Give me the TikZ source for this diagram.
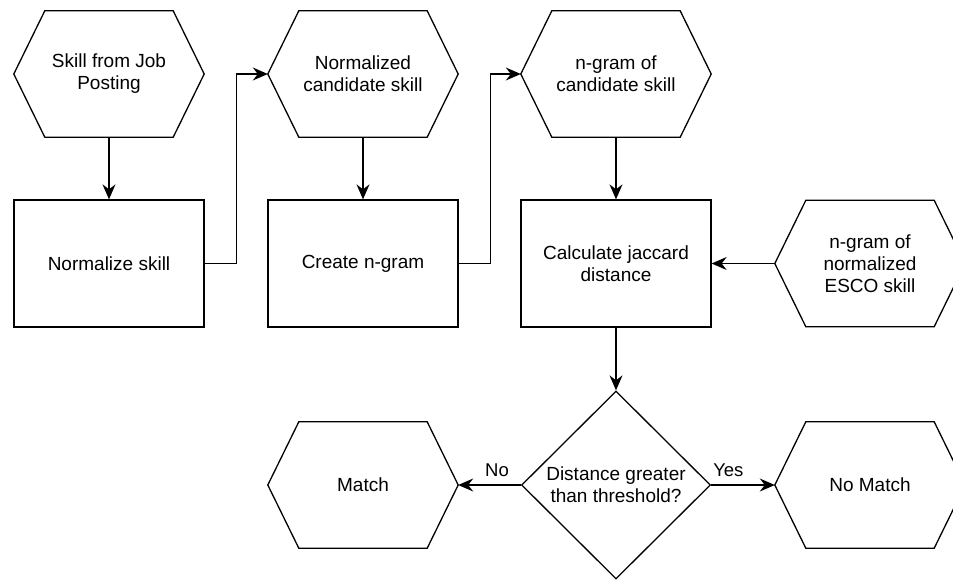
\documentclass[tikz,border=0pt]{standalone}
\usepackage{fontspec}
\setmainfont{Liberation Sans}
\usetikzlibrary{arrows.meta,shapes.geometric}

\tikzset{
  box/.style={draw, line width=1.3pt, minimum width=190pt, minimum height=127pt,
    inner sep=0pt, align=center, font=\fontsize{19}{22}\selectfont},
  hexbox/.style={minimum width=190pt, minimum height=126pt, inner sep=0pt,
    align=center, font=\fontsize{19}{22}\selectfont},
  decision/.style={draw, line width=1.3pt, diamond, aspect=1, inner sep=0pt,
    minimum width=189pt, minimum height=188pt, align=center,
    font=\fontsize{19}{22}\selectfont},
  outline/.style={draw, line width=1.3pt, line join=miter},
  flow/.style={line width=1.3pt, -{Stealth[length=15pt,width=13pt,inset=5pt]}},
  edgelabel/.style={font=\fontsize{18.5}{21}\selectfont, inner sep=0pt}
}

\begin{document}
\begin{tikzpicture}[x=1pt,y=-1pt]
  \path[use as bounding box, clip] (0,0) rectangle (953,579);

  % input / data hexagons
  \node[hexbox] (h1) at (109,74)    {Skill from Job\\Posting};
  \node[hexbox] (h2) at (363,74)    {Normalized\\candidate skill};
  \node[hexbox] (h3) at (616,74)    {n-gram of\\candidate skill};
  \node[hexbox] (h4) at (870,263.5) {n-gram of\\normalized\\ESCO skill};
  \node[hexbox] (m)  at (363,485)   {Match};
  \node[hexbox] (nm) at (870,485)   {No Match};

  % process steps
  \node[box] (b1) at (109,263.5) {Normalize skill};
  \node[box] (b2) at (363,263.5) {Create n-gram};
  \node[box] (b3) at (616,263.5) {Calculate jaccard\\distance};

  % decision
  \node[decision] (d) at (616,485) {Distance greater\\than threshold?};

  % hexagon outlines
  \foreach \n in {h1,h2,h3,h4,m,nm}
    \draw[outline] (\n.west) -- ([xshift=31pt]\n.north west)
      -- ([xshift=-31pt]\n.north east) -- (\n.east)
      -- ([xshift=-31pt]\n.south east) -- ([xshift=31pt]\n.south west) -- cycle;

  % connectors
  \draw[flow] (h1.south) -- (b1.north);
  \draw[flow] (b1.east) -- ++(32pt,0) |- (h2.west);
  \draw[flow] (h2.south) -- (b2.north);
  \draw[flow] (b2.east) -- ++(32pt,0) |- (h3.west);
  \draw[flow] (h3.south) -- (b3.north);
  \draw[flow] (h4.west) -- (b3.east);
  \draw[flow] (b3.south) -- (d.north);
  \draw[flow] (d.west) -- node[edgelabel, pos=0.38, yshift=15pt] {No} (m.east);
  \draw[flow] (d.east) -- node[edgelabel, pos=0.27, yshift=15pt] {Yes} (nm.west);
\end{tikzpicture}
\end{document}
